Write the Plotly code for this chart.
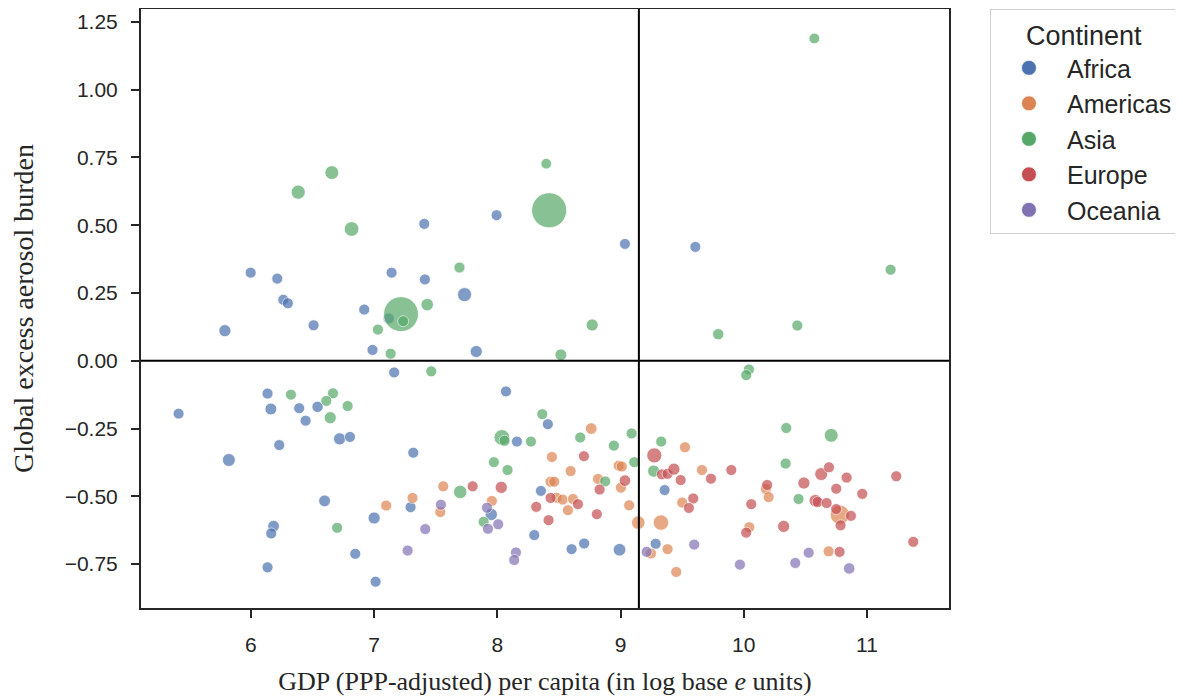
import numpy as np
import plotly.graph_objects as go

# ---------------- data ----------------
continents = ["Africa", "Americas", "Asia", "Europe", "Oceania"]

africa_x = [5.998, 6.214, 6.263, 6.300, 7.142, 5.789, 6.509, 6.920, 7.118, 6.987, 7.163, 6.135,
            5.413, 6.162, 6.392, 6.541, 6.444, 6.720, 6.804, 6.230, 5.821, 7.318, 6.598, 7.000,
            6.184, 6.165, 6.847, 6.135, 7.012, 7.296, 7.407, 7.994, 9.036, 7.412, 7.734, 7.829,
            8.070, 8.410, 8.159, 8.354, 7.951, 8.300, 8.603, 8.705, 8.992, 9.285, 9.358, 9.607]
africa_y = [0.325, 0.303, 0.225, 0.212, 0.325, 0.111, 0.131, 0.189, 0.156, 0.040, -0.043, -0.121,
            -0.195, -0.178, -0.175, -0.170, -0.221, -0.288, -0.281, -0.311, -0.366, -0.339, -0.517, -0.580,
            -0.610, -0.637, -0.712, -0.762, -0.815, -0.540, 0.505, 0.537, 0.431, 0.300, 0.244, 0.034,
            -0.113, -0.234, -0.298, -0.480, -0.567, -0.643, -0.695, -0.674, -0.697, -0.675, -0.477, 0.420]
africa_pop = [12, 12, 12, 12, 12, 45, 12, 12, 12, 12, 12, 12,
              10, 35, 12, 20, 12, 45, 12, 12, 70, 12, 35, 45,
              30, 12, 12, 12, 12, 12, 12, 12, 10, 12, 110, 45,
              12, 12, 12, 12, 50, 12, 12, 12, 60, 12, 12, 10]

americas_x = [7.098, 7.312, 7.537, 7.561, 7.956, 8.762, 8.443, 8.595, 8.985, 9.010, 8.432, 8.462,
              8.817, 9.003, 8.481, 8.530, 8.614, 8.573, 9.070, 9.144, 9.328, 9.247, 9.382, 9.523,
              9.661, 9.501, 9.452, 10.045, 10.180, 10.202, 10.780, 10.689]
americas_y = [-0.534, -0.506, -0.558, -0.463, -0.517, -0.250, -0.355, -0.407, -0.387, -0.390, -0.446, -0.446,
              -0.436, -0.468, -0.505, -0.512, -0.510, -0.551, -0.533, -0.597, -0.597, -0.711, -0.695, -0.319,
              -0.403, -0.523, -0.779, -0.614, -0.473, -0.503, -0.568, -0.703]
americas_pop = [12, 12, 12, 12, 12, 30, 12, 12, 12, 12, 12, 12,
                12, 12, 12, 12, 12, 12, 12, 90, 160, 12, 12, 12,
                12, 12, 12, 12, 12, 12, 330, 12]

asia_x = [6.657, 6.384, 6.817, 7.218, 7.236, 7.031, 7.134, 6.325, 6.666, 6.612, 6.785, 6.644,
          6.700, 8.421, 8.397, 7.693, 7.431, 8.770, 8.516, 7.464, 8.365, 8.037, 8.059, 8.273,
          8.673, 9.090, 8.946, 7.972, 8.083, 9.111, 7.699, 8.876, 7.889, 9.330, 9.269, 10.345,
          10.340, 10.710, 10.445, 9.793, 10.435, 10.042, 10.020, 11.192, 10.573]
asia_y = [0.694, 0.622, 0.486, 0.172, 0.146, 0.115, 0.026, -0.125, -0.120, -0.148, -0.167, -0.210,
          -0.616, 0.555, 0.727, 0.344, 0.207, 0.132, 0.022, -0.039, -0.197, -0.283, -0.295, -0.298,
          -0.283, -0.268, -0.313, -0.374, -0.403, -0.374, -0.484, -0.445, -0.594, -0.298, -0.407, -0.248,
          -0.379, -0.275, -0.510, 0.098, 0.130, -0.032, -0.053, 0.336, 1.189]
asia_pop = [100, 110, 130, 1380, 12, 12, 12, 12, 12, 12, 12, 45,
            12, 1400, 2, 12, 55, 45, 35, 12, 12, 170, 12, 12,
            12, 12, 12, 12, 12, 12, 85, 12, 12, 12, 45, 12,
            12, 100, 12, 20, 12, 12, 12, 12, 5]

europe_x = [8.703, 7.800, 8.032, 9.036, 8.830, 8.432, 8.654, 8.316, 8.416, 8.808, 9.274, 9.336,
            9.382, 9.433, 9.488, 9.734, 9.899, 9.590, 9.555, 10.061, 10.020, 10.190, 10.324, 10.488,
            10.629, 10.692, 10.835, 10.751, 10.962, 11.238, 10.581, 10.600, 10.673, 10.750, 10.870,
            10.786, 10.778, 11.376]
europe_y = [-0.352, -0.463, -0.467, -0.442, -0.475, -0.506, -0.529, -0.539, -0.588, -0.566, -0.349, -0.419,
            -0.417, -0.400, -0.440, -0.435, -0.403, -0.508, -0.543, -0.529, -0.634, -0.458, -0.611, -0.451,
            -0.418, -0.393, -0.431, -0.472, -0.491, -0.426, -0.516, -0.521, -0.525, -0.547, -0.572,
            -0.607, -0.705, -0.668]
europe_pop = [12, 12, 45, 25, 12, 12, 12, 12, 12, 12, 145, 12,
              12, 45, 12, 12, 12, 12, 12, 12, 12, 12, 45, 45,
              70, 12, 12, 12, 12, 12, 55, 12, 12, 12, 12,
              12, 12, 12]

oceania_x = [7.272, 7.542, 7.916, 8.007, 7.924, 7.415, 8.151, 8.137, 9.212, 9.598, 9.969, 10.527,
             10.418, 10.856]
oceania_y = [-0.700, -0.531, -0.542, -0.603, -0.620, -0.621, -0.707, -0.735, -0.705, -0.678, -0.752, -0.708,
             -0.746, -0.766]
oceania_pop = [12, 12, 12, 12, 12, 12, 12, 12, 12, 12, 12, 12,
               12, 25]

gdp_split = 9.149   # vertical reference line (x)
burden_split = 0.0  # horizontal reference line (y)

x_ticks = [6, 7, 8, 9, 10, 11]
y_ticks = [-0.75, -0.5, -0.25, 0.0, 0.25, 0.5, 0.75, 1.0, 1.25]

# ---------------- styling ----------------
colors = {"Africa": "#4C72B0", "Americas": "#DD8452", "Asia": "#55A868",
          "Europe": "#C44E52", "Oceania": "#8172B3"}
series = {
    "Africa": (africa_x, africa_y, africa_pop),
    "Americas": (americas_x, americas_y, americas_pop),
    "Asia": (asia_x, asia_y, asia_pop),
    "Europe": (europe_x, europe_y, europe_pop),
    "Oceania": (oceania_x, oceania_y, oceania_pop),
}


def pop_to_diameter(pop):
    p = np.asarray(pop, dtype=float)
    return np.sqrt(112.0 + 0.80 * p)


fig = go.Figure()
for c in continents:
    xs, ys, ps = series[c]
    fig.add_trace(go.Scatter(
        x=xs, y=ys, mode="markers", name=c, showlegend=False,
        marker=dict(color=colors[c], opacity=0.7, size=pop_to_diameter(ps),
                    sizemode="diameter", line=dict(color="white", width=0.8)),
    ))
# legend-only entries (solid markers as in the reference legend)
for c in continents:
    fig.add_trace(go.Scatter(
        x=[None], y=[None], mode="markers", name=c, showlegend=True,
        marker=dict(color=colors[c], size=15, line=dict(color="white", width=0.8)),
    ))

axis_col = "#262626"
fig.add_shape(type="line", xref="x", yref="paper", x0=gdp_split, x1=gdp_split, y0=0, y1=1,
              line=dict(color="black", width=2), layer="above")
fig.add_shape(type="line", xref="paper", yref="y", x0=0, x1=1, y0=burden_split, y1=burden_split,
              line=dict(color="black", width=2), layer="above")

sans = "Liberation Sans, Arial, sans-serif"
serif = "Liberation Serif, Times New Roman, serif"

fig.update_layout(
    width=1183, height=700,
    margin=dict(l=133, r=242, t=1, b=100, autoexpand=False),
    paper_bgcolor="white", plot_bgcolor="white",
    font=dict(family=sans, color=axis_col, size=21),
    legend=dict(
        title=dict(text="Continent", side="top center",
                   font=dict(size=27, family=sans, color=axis_col)),
        font=dict(size=25, family=sans, color=axis_col),
        x=1.0507, y=1.0, xanchor="left", yanchor="top",
        bordercolor="#d0d0d0", borderwidth=1, bgcolor="white",
        itemsizing="trace", itemwidth=66, tracegroupgap=0,
    ),
    xaxis=dict(
        range=[5.108, 11.666], tickvals=x_ticks, ticktext=[str(v) for v in x_ticks],
        showgrid=False, zeroline=False, showline=True, mirror=True,
        linecolor=axis_col, linewidth=2, ticks="outside", ticklen=8, tickwidth=1.5,
        tickcolor=axis_col, tickfont=dict(size=21), ticklabelstandoff=9,
        ticklabeloverflow="allow", automargin=False,
        title=dict(text="GDP (PPP-adjusted) per capita (in log base <i>e</i> units)",
                   font=dict(family=serif, size=26, color=axis_col),
                   standoff=17),
    ),
    yaxis=dict(
        range=[-0.912, 1.2976], tickvals=y_ticks, tickformat=".2f",
        showgrid=False, zeroline=False, showline=True, mirror=True,
        linecolor=axis_col, linewidth=2, ticks="outside", ticklen=8, tickwidth=1.5,
        tickcolor=axis_col, tickfont=dict(size=21), ticklabelstandoff=9,
        ticklabeloverflow="allow", automargin=False,
        title=dict(text="Global excess aerosol burden",
                   font=dict(family=serif, size=28, color=axis_col),
                   standoff=44),
    ),
)

fig.write_html("out.html")
